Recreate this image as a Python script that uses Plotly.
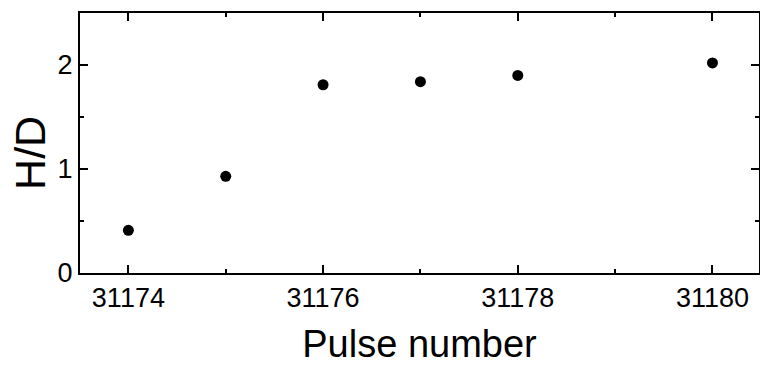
import plotly.graph_objects as go

pulse = [31174, 31175, 31176, 31177, 31178, 31180]
hd = [0.41, 0.93, 1.81, 1.84, 1.90, 2.02]

x_ticks = [31174, 31176, 31178, 31180]
y_ticks = [0, 1, 2]

fig = go.Figure()
fig.add_trace(go.Scatter(
    x=pulse, y=hd, mode="markers",
    marker=dict(color="black", size=11),
    showlegend=False,
))

font = "Liberation Sans, Arial, sans-serif"
axis_common = dict(
    showline=True, linecolor="black", linewidth=2, mirror="ticks",
    ticks="inside", ticklen=8, tickwidth=2, tickcolor="black",
    showgrid=False, zeroline=False, automargin=False,
    tickfont=dict(family=font, size=27, color="black"),
)

fig.update_xaxes(
    range=[31173.503, 31180.478], tickvals=x_ticks,
    ticktext=[str(v) for v in x_ticks],
    minor=dict(dtick=1, tick0=31174, ticks="inside", ticklen=4, tickwidth=2, tickcolor="black"),
    title=dict(text="Pulse number", font=dict(family=font, size=38, color="black"), standoff=18),
    **axis_common,
)
fig.update_yaxes(
    range=[0, 2.5], tickvals=y_ticks,
    ticktext=[str(v) for v in y_ticks],
    minor=dict(dtick=0.5, tick0=0, ticks="inside", ticklen=4, tickwidth=2, tickcolor="black"),
    **axis_common,
)

fig.add_annotation(
    text="H/D", textangle=-90, showarrow=False,
    xref="paper", yref="paper", x=0, y=0.462,
    xanchor="center", yanchor="middle", xshift=-50,
    font=dict(family=font, size=43, color="black"),
)

fig.update_layout(
    width=760, height=367,
    margin=dict(l=80, r=1, t=13, b=94),
    plot_bgcolor="white", paper_bgcolor="white",
)

fig.write_html("out.html", config={"displayModeBar": False},
               post_script="document.body.style.margin='0';")
